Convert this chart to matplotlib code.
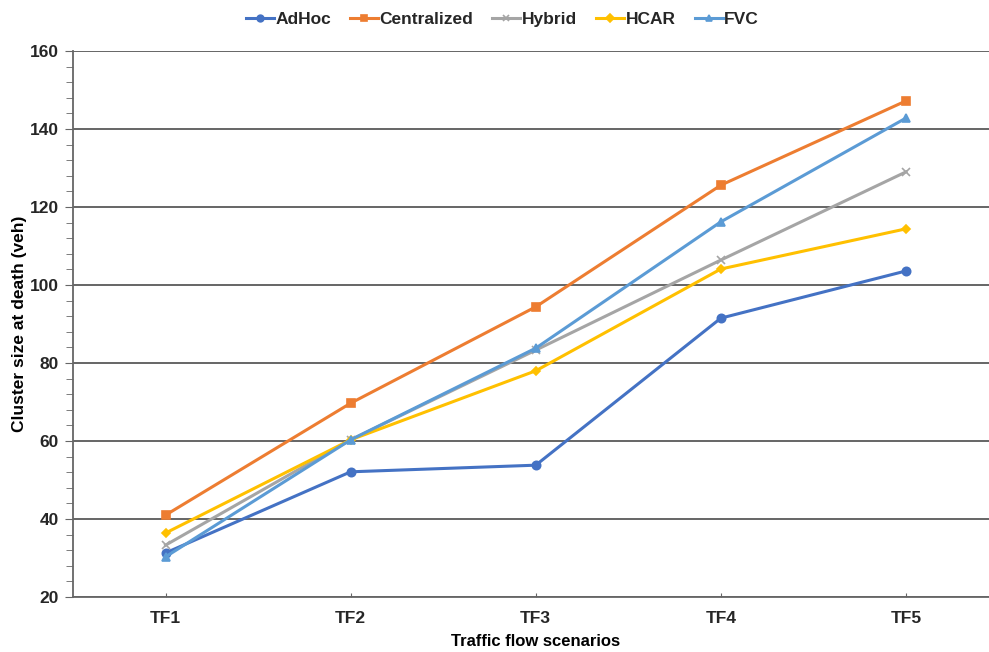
import matplotlib
matplotlib.use('Agg')
import matplotlib.pyplot as plt
from matplotlib.ticker import MultipleLocator

plt.rcParams['font.family'] = ['Liberation Sans', 'DejaVu Sans']
plt.rcParams['font.weight'] = 'bold'
plt.rcParams['text.color'] = '#262626'

scenarios = ['TF1', 'TF2', 'TF3', 'TF4', 'TF5']
adhoc = [31.3, 52.1, 53.8, 91.5, 103.6]
centralized = [41.0, 69.7, 94.4, 125.6, 147.2]
hybrid = [33.3, 60.3, 83.3, 106.4, 129.0]
hcar = [36.4, 60.3, 78.0, 104.1, 114.4]
fvc = [30.3, 60.3, 83.8, 116.2, 142.8]

series = [
    ('AdHoc', adhoc, '#4472C4', 'o', 6),
    ('Centralized', centralized, '#ED7D31', 's', 6),
    ('Hybrid', hybrid, '#A5A5A5', 'x', 6),
    ('HCAR', hcar, '#FFC000', 'D', 4.5),
    ('FVC', fvc, '#5B9BD5', '^', 6),
]

fig = plt.figure(figsize=(9.89, 6.52), dpi=100)
ax = fig.add_axes([73 / 989, 1 - 597 / 652, (998.5 - 73) / 989, (597 - 51) / 652])

x = range(len(scenarios))
for name, vals, color, marker, ms in series:
    ax.plot(x, vals, color=color, marker=marker, markersize=ms, linewidth=2.2,
            markeredgewidth=1.2, label=name, zorder=3)

ax.set_xlim(-0.5, 4.5)
ax.set_ylim(20, 160)
ax.set_xticks(list(x))
ax.set_xticklabels(scenarios)
ax.yaxis.set_major_locator(MultipleLocator(20))
ax.yaxis.set_minor_locator(MultipleLocator(4))
ax.grid(axis='y', color='#595959', linewidth=1.3, zorder=0)

axis_gray = '#666666'
for s in ['top', 'right']:
    ax.spines[s].set_visible(False)
for s in ['left', 'bottom']:
    ax.spines[s].set_color(axis_gray)
    ax.spines[s].set_linewidth(1.3)

ax.tick_params(axis='y', which='major', direction='out', length=6, color=axis_gray,
               labelsize=12.5, pad=4, labelcolor='#262626')
ax.tick_params(axis='y', which='minor', direction='out', length=5, color=axis_gray)
ax.tick_params(axis='x', which='major', direction='in', length=3, color=axis_gray,
               labelsize=12.5, pad=10, labelcolor='#262626')

ax.set_xlabel('Traffic flow scenarios', fontsize=12, fontweight='bold', labelpad=6)
ax.set_ylabel('Cluster size at death (veh)', fontsize=12.5, fontweight='bold', labelpad=2)

fig.legend(loc='upper center', bbox_to_anchor=(0.508, 1.006), ncol=5, frameon=False,
           fontsize=12.5, handlelength=1.6, handletextpad=0.1, columnspacing=1.1,
           markerscale=0.8)

fig.savefig('out.png', dpi=100)
